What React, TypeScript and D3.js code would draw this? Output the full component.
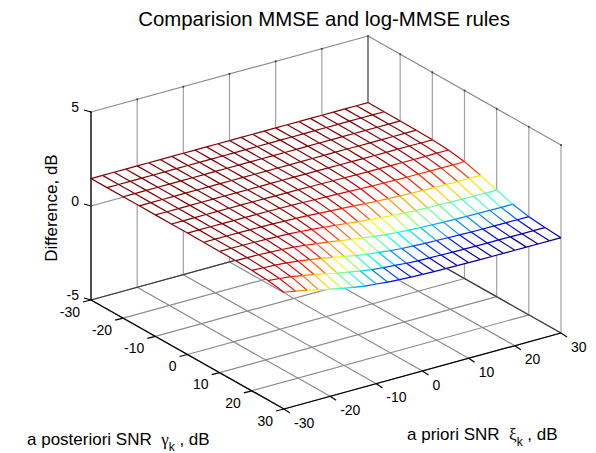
import React from "react";
import * as d3 from "d3";

const titleText = "Comparision MMSE and log-MMSE rules";
const xiValues = d3.range(0, 25).map((i) => -30 + i * 2.5);
const gammaValues = d3.range(0, 13).map((i) => -30 + i * 5);
const xiTicks = [-30, -20, -10, 0, 10, 20, 30];
const gammaTicks = [-30, -20, -10, 0, 10, 20, 30];
const zTicks = [-5, 0, 5];

const rowM30 = [1.46,1.46,1.46,1.46,1.46,1.46,1.46,1.46,1.46,1.46,1.46,1.46,1.46,1.46,1.46,1.46,1.46,1.46,1.46,1.46,1.46,1.46,1.46,1.46,1.46];
const rowM25 = [1.46,1.46,1.46,1.46,1.46,1.46,1.46,1.46,1.46,1.46,1.46,1.46,1.46,1.46,1.46,1.46,1.46,1.46,1.46,1.46,1.46,1.46,1.46,1.455,1.455];
const rowM20 = [1.46,1.46,1.46,1.46,1.46,1.46,1.46,1.46,1.46,1.46,1.46,1.46,1.46,1.455,1.455,1.455,1.455,1.455,1.455,1.455,1.455,1.45,1.45,1.45,1.45];
const rowM15 = [1.46,1.46,1.46,1.46,1.46,1.46,1.46,1.46,1.46,1.455,1.455,1.455,1.45,1.45,1.45,1.45,1.45,1.45,1.45,1.44,1.44,1.44,1.44,1.44,1.44];
const rowM10 = [1.46,1.46,1.46,1.46,1.46,1.46,1.455,1.455,1.45,1.45,1.45,1.45,1.45,1.44,1.44,1.43,1.43,1.43,1.42,1.42,1.42,1.42,1.42,1.41,1.41];
const rowM5 = [1.46,1.46,1.46,1.46,1.455,1.455,1.45,1.45,1.45,1.44,1.43,1.43,1.42,1.41,1.40,1.39,1.38,1.37,1.37,1.36,1.36,1.35,1.35,1.35,1.35];
const row0 = [1.46,1.46,1.46,1.455,1.45,1.45,1.44,1.44,1.43,1.42,1.40,1.38,1.36,1.34,1.32,1.29,1.27,1.26,1.24,1.23,1.23,1.22,1.22,1.21,1.21];
const row5 = [1.455,1.45,1.45,1.45,1.44,1.43,1.42,1.40,1.38,1.35,1.31,1.27,1.23,1.20,1.15,1.11,1.08,1.06,1.03,1.01,1.00,0.99,0.98,0.98,0.97];
const row10 = [1.45,1.45,1.44,1.43,1.42,1.39,1.37,1.33,1.27,1.22,1.15,1.08,1.01,0.95,0.89,0.84,0.80,0.76,0.74,0.72,0.70,0.69,0.68,0.67,0.67];
const row15 = [1.44,1.43,1.42,1.39,1.36,1.32,1.25,1.17,1.08,0.99,0.89,0.80,0.71,0.64,0.58,0.54,0.51,0.48,0.46,0.44,0.43,0.42,0.41,0.40,0.40];
const row20 = [1.41,1.38,1.35,1.30,1.23,1.14,1.03,0.92,0.80,0.68,0.58,0.51,0.44,0.38,0.35,0.32,0.30,0.28,0.26,0.25,0.24,0.235,0.23,0.225,0.22];
const row25 = [1.35,1.29,1.22,1.11,1.00,0.87,0.74,0.62,0.51,0.41,0.35,0.30,0.25,0.21,0.195,0.18,0.165,0.155,0.15,0.14,0.14,0.135,0.13,0.13,0.125];
const row30 = [1.21,1.10,0.98,0.83,0.70,0.57,0.46,0.36,0.30,0.23,0.195,0.165,0.14,0.12,0.11,0.10,0.09,0.085,0.08,0.078,0.075,0.073,0.072,0.071,0.07];
const surface = [rowM30,rowM25,rowM20,rowM15,rowM10,rowM5,row0,row5,row10,row15,row20,row25,row30];

const FONT = "'Liberation Sans', Arial, sans-serif";
const originX = 91;
const originY = 300;
const xiDX = d3.scaleLinear().domain([-30, 30]).range([0, 277]);
const xiDY = d3.scaleLinear().domain([-30, 30]).range([0, -76]);
const gaDX = d3.scaleLinear().domain([-30, 30]).range([0, 193]);
const gaDY = d3.scaleLinear().domain([-30, 30]).range([0, 109]);
const zDY = d3.scaleLinear().domain([-5, 5]).range([0, -188]);

const project = (xi: number, ga: number, z: number): [number, number] => [
  originX + xiDX(xi) + gaDX(ga),
  originY + xiDY(xi) + gaDY(ga) + zDY(z),
];

const allZ = surface.flat();
const jet = (t: number) => {
  const c = (v: number) => Math.round(255 * Math.max(0, Math.min(1, 1.5 - Math.abs(4 * t - v))));
  return `rgb(${c(3)},${c(2)},${c(1)})`;
};
const colorScale = d3.scaleSequential(jet).domain([d3.min(allZ) as number, d3.max(allZ) as number]);
const line = d3.line();

const Seg = ({ a, b, stroke, w = 1.2 }: { a: [number, number]; b: [number, number]; stroke: string; w?: number }) => (
  <path d={line([a, b]) as string} stroke={stroke} strokeWidth={w} fill="none" />
);

export default function App() {
  const grid = "#8c8c8c";
  const vert = "#a0a0a0";
  const dark = "#3c3c3c";
  const ink = "#000";
  const cells: React.ReactNode[] = [];
  const lines: React.ReactNode[] = [];
  gammaValues.forEach((ga, i) => {
    xiValues.forEach((xi, j) => {
      const p = project(xi, ga, surface[i][j]);
      if (i < gammaValues.length - 1 && j < xiValues.length - 1) {
        const quad = [
          p,
          project(xiValues[j + 1], ga, surface[i][j + 1]),
          project(xiValues[j + 1], gammaValues[i + 1], surface[i + 1][j + 1]),
          project(xi, gammaValues[i + 1], surface[i + 1][j]),
        ] as [number, number][];
        cells.push(<path key={`c${i}-${j}`} d={(line(quad) as string) + "Z"} fill="#fff" stroke="#fff" strokeWidth={0.6} />);
      }
    });
  });
  gammaValues.forEach((ga, i) => {
    xiValues.forEach((xi, j) => {
      const p = project(xi, ga, surface[i][j]);
      const col = colorScale(surface[i][j]);
      if (j < xiValues.length - 1)
        lines.push(<Seg key={`h${i}-${j}`} a={p} b={project(xiValues[j + 1], ga, surface[i][j + 1])} stroke={col} />);
      if (i < gammaValues.length - 1)
        lines.push(<Seg key={`v${i}-${j}`} a={p} b={project(xi, gammaValues[i + 1], surface[i + 1][j])} stroke={col} />);
    });
  });

  return (
    <svg width={596} height={453} viewBox="0 0 596 453" style={{ position: "absolute", left: 0, top: 0, background: "#fff" }} fontFamily={FONT}>
      {/* wall verticals */}
      {xiTicks.map((t) => (
        <Seg key={`wx${t}`} a={project(t, -30, -5)} b={project(t, -30, 5)} stroke={t === 30 ? dark : vert} />
      ))}
      {gammaTicks.filter((t) => t > -30).map((t) => (
        <Seg key={`wg${t}`} a={project(30, t, -5)} b={project(30, t, 5)} stroke={vert} />
      ))}
      {/* wall horizontals */}
      {zTicks.filter((z) => z > -5).map((z) => (
        <g key={`wz${z}`}>
          <Seg a={project(-30, -30, z)} b={project(30, -30, z)} stroke={grid} />
          <Seg a={project(30, -30, z)} b={project(30, 30, z)} stroke={grid} />
        </g>
      ))}
      {/* top dots */}
      {xiTicks.map((t) => {
        const [x, y] = project(t, -30, 5);
        return <circle key={`dx${t}`} cx={x} cy={y} r={1} fill={dark} />;
      })}
      {gammaTicks.filter((t) => t > -30).map((t) => {
        const [x, y] = project(30, t, 5);
        return <circle key={`dg${t}`} cx={x} cy={y} r={1} fill={dark} />;
      })}
      {/* floor grid */}
      {xiTicks.map((t) => (
        <Seg key={`fx${t}`} a={project(t, -30, -5)} b={project(t, 30, -5)} stroke={grid} />
      ))}
      {gammaTicks.map((t) => (
        <Seg key={`fg${t}`} a={project(-30, t, -5)} b={project(30, t, -5)} stroke={grid} />
      ))}
      <Seg a={project(-30, -30, -5)} b={project(30, -30, -5)} stroke={dark} />
      <Seg a={project(30, -30, -5)} b={project(30, 30, -5)} stroke={dark} />

      {/* surface */}
      {cells}
      {lines}

      {/* axes */}
      <Seg a={project(-30, -30, -5)} b={project(-30, -30, 5)} stroke={ink} />
      <Seg a={project(-30, -30, -5)} b={project(-30, 30, -5)} stroke={ink} />
      <Seg a={project(-30, 30, -5)} b={project(30, 30, -5)} stroke={ink} />
      {gammaTicks.map((t) => {
        const [x, y] = project(-30, t, -5);
        return (
          <g key={`gt${t}`}>
            <Seg a={[x, y]} b={[x - 8, y + 2]} stroke={ink} />
            <text x={x - 11} y={y + 13} textAnchor="end" dominantBaseline="middle" fontSize={14} fill={ink}>{t}</text>
          </g>
        );
      })}
      {xiTicks.map((t) => {
        const [x, y] = project(t, 30, -5);
        return (
          <g key={`xt${t}`}>
            <Seg a={[x, y]} b={[x + 6, y + 4]} stroke={ink} />
            <text x={x + 10} y={y + 15} textAnchor="start" dominantBaseline="middle" fontSize={14} fill={ink}>{t}</text>
          </g>
        );
      })}
      {zTicks.map((t) => {
        const [x, y] = project(-30, -30, t);
        return (
          <g key={`zt${t}`}>
            <Seg a={[x, y]} b={[x - 7, y - 2]} stroke={ink} />
            <text x={x - 12} y={y - 4} textAnchor="end" dominantBaseline="middle" fontSize={14} fill={ink}>{t}</text>
          </g>
        );
      })}

      {/* labels */}
      <text x={324} y={26} textAnchor="middle" fontSize={20.4} fill={ink}>{titleText}</text>
      <text transform="translate(57,208) rotate(-90)" textAnchor="middle" fontSize={17} fill={ink}>Difference, dB</text>
      <text x={27} y={445} fontSize={17} fill={ink} xmlSpace="preserve">
        a posteriori SNR{"  "}
        <tspan fontFamily="'Liberation Serif', serif" fontSize={17}>γ</tspan>
        <tspan fontSize={12} dy={6}>k</tspan>
        <tspan dy={-6}> , dB</tspan>
      </text>
      <text x={407} y={440} fontSize={17} fill={ink} xmlSpace="preserve">
        a priori SNR{"  "}
        <tspan fontFamily="'Liberation Serif', serif" fontSize={17}>ξ</tspan>
        <tspan fontSize={12} dy={6}>k</tspan>
        <tspan dy={-6}> , dB</tspan>
      </text>
    </svg>
  );
}
